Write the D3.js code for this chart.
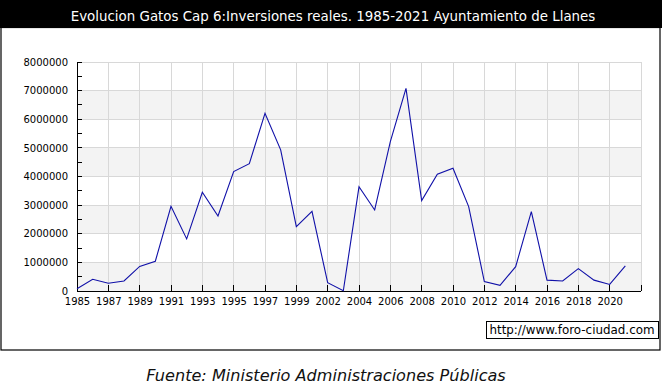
<!DOCTYPE html>
<html><head><meta charset="utf-8">
<script src="https://cdn.jsdelivr.net/npm/d3@7"></script>
<style>
html,body{margin:0;padding:0;background:#fff;}
svg{display:block;}
</style></head>
<body>
<script>
const title = "Evolucion Gatos Cap 6:Inversiones reales. 1985-2021 Ayuntamiento de Llanes";
const source = "Fuente: Ministerio Administraciones Públicas";
const watermark = "http://www.foro-ciudad.com";
const years = ["1985","1986","1987","1988","1989","1990","1991","1992","1993","1994","1995","1996","1997","1998","1999","2000","2002","2003","2004","2005","2006","2007","2008","2009","2010","2011","2012","2013","2014","2015","2016","2017","2018","2019","2020","2021"];
const values = [80000,410000,270000,350000,860000,1040000,2960000,1820000,3450000,2620000,4170000,4450000,6210000,4930000,2250000,2780000,290000,10000,3640000,2830000,5220000,7080000,3160000,4080000,4290000,2950000,330000,200000,850000,2770000,380000,350000,780000,380000,230000,880000];
const tickLabels = ["1985","1987","1989","1991","1993","1995","1997","1999","2002","2004","2006","2008","2010","2012","2014","2016","2018","2020"];
const yTicks = [0,1000000,2000000,3000000,4000000,5000000,6000000,7000000,8000000];

(function(){
const W = 662, H = 390;
const svg = d3.select("body").append("svg").attr("width", W).attr("height", H);
const font = "Verdana, 'DejaVu Sans', sans-serif";

// title bar
svg.append("rect").attr("x",0).attr("y",0).attr("width",W).attr("height",28).attr("fill","#000");
svg.append("text").attr("x",333).attr("y",20.5).attr("text-anchor","middle")
  .attr("fill","#fff").style("font-family",font).style("font-size","13.4px").text(title);
// frame
svg.append("rect").attr("x",1).attr("y",27.5).attr("width",659).attr("height",322.5)
  .attr("fill","#fff").attr("stroke","#000").attr("stroke-width",1.2);

const pL = 77, pR = 641, pT = 62, pB = 291;
const x = d3.scaleLinear().domain([0, 36]).range([pL, pR]);
const y = d3.scaleLinear().domain([0, 8000000]).range([pB, pT]);

// bands
const bands = d3.range(0, 8000000, 1000000);
svg.append("g").selectAll("rect").data(bands).join("rect")
  .attr("x", pL).attr("width", pR-pL)
  .attr("y", d => y(d+1000000)).attr("height", d => y(d) - y(d+1000000))
  .attr("fill", (d,i) => i % 2 === 0 ? "#f3f3f3" : "#ffffff");

// grid
const xTickIdx = d3.range(0, 37, 2);
svg.append("g").selectAll("line").data(xTickIdx).join("line")
  .attr("x1", d => x(d)).attr("x2", d => x(d)).attr("y1", pT).attr("y2", pB)
  .attr("stroke","#d8d8d8").attr("stroke-width",1).attr("shape-rendering","crispEdges");
svg.append("g").selectAll("line").data(yTicks).join("line")
  .attr("x1", pL).attr("x2", pR).attr("y1", d => y(d)).attr("y2", d => y(d))
  .attr("stroke","#d8d8d8").attr("stroke-width",1).attr("shape-rendering","crispEdges");

// axes
const yAxis = d3.axisLeft(y).tickValues(yTicks).tickFormat(d3.format("d")).tickSize(0).tickPadding(9);
const gy = svg.append("g").attr("transform",`translate(${pL},0)`).call(yAxis);
gy.select(".domain").remove();
gy.selectAll("text").style("font-family",font).style("font-size","10px").attr("fill","#000");
svg.append("g").selectAll("line").data(d3.range(0, 8000001, 500000)).join("line")
  .attr("x1", pL).attr("x2", pL+5).attr("y1", d => y(d)).attr("y2", d => y(d))
  .attr("stroke","#000").attr("shape-rendering","crispEdges");

const xAxis = d3.axisBottom(x).tickValues(xTickIdx)
  .tickFormat((d,i) => tickLabels[i] || "").tickSize(0).tickPadding(7);
const gx = svg.append("g").attr("transform",`translate(0,${pB})`).call(xAxis);
gx.select(".domain").remove();
gx.selectAll("text").style("font-family",font).style("font-size","10px").attr("fill","#000");
svg.append("g").selectAll("line").data(xTickIdx).join("line")
  .attr("x1", d => x(d)).attr("x2", d => x(d)).attr("y1", pB).attr("y2", pB-6)
  .attr("stroke","#000").attr("shape-rendering","crispEdges");

svg.append("line").attr("x1",pL).attr("x2",pL).attr("y1",pT).attr("y2",pB)
  .attr("stroke","#000").attr("shape-rendering","crispEdges");
svg.append("line").attr("x1",pL).attr("x2",pR).attr("y1",pB).attr("y2",pB)
  .attr("stroke","#000").attr("shape-rendering","crispEdges");

// line
const line = d3.line().x((d,i) => x(i)).y(d => y(d));
svg.append("path").datum(values).attr("d", line)
  .attr("fill","none").attr("stroke","#1010a8").attr("stroke-width",1.1);

// watermark
svg.append("rect").attr("x",486).attr("y",321).attr("width",172).attr("height",17)
  .attr("fill","#fff").attr("stroke","#000").attr("stroke-width",1).attr("shape-rendering","crispEdges");
svg.append("text").attr("x",572).attr("y",334).attr("text-anchor","middle")
  .style("font-family",font).style("font-size","11.9px").attr("fill","#000").text(watermark);

// source
svg.append("text").attr("x",326).attr("y",381).attr("text-anchor","middle")
  .style("font-family",font).style("font-style","italic").style("font-size","16.1px").attr("fill","#111").text(source);
})();
</script>
</body></html>
